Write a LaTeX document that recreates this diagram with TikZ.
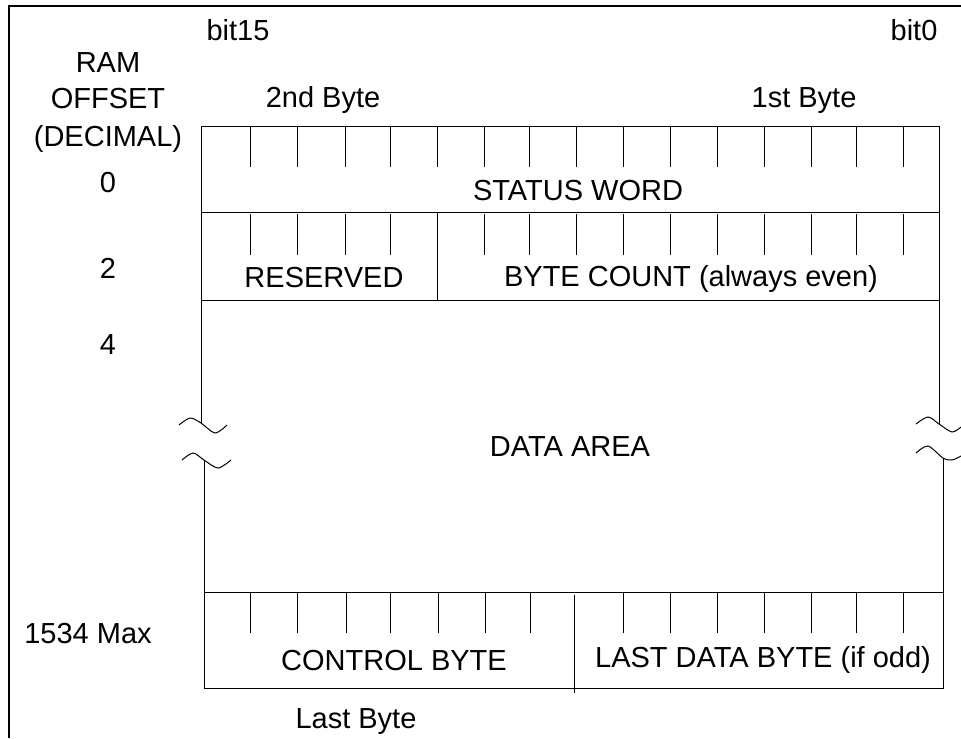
\documentclass[tikz,border=0pt]{standalone}
\usepackage{fontspec}
\setmainfont{Liberation Sans}
\usetikzlibrary{positioning}
\def\TickTop{250,297,345,390,437,484,529,576,623,670,717,764,811,856,903}

\begin{document}
\begin{tikzpicture}[% one unit is one pixel of the page, y runs downwards
			x=0.5pt,y=-0.5pt,
			every node/.style={
				font=\fontsize{14.5}{17}\selectfont,
				inner sep=0pt,
				anchor=base		% texts sit on their base line
			},
			rule/.style={draw,line width=0.5pt},
			frame/.style={draw,line width=1pt}
		]
		\useasboundingbox (0,0) rectangle (961,738);
		\draw[frame] (9,738) -- (9,6) -- (961,6);
		% labels round the table
		\node (B15) at (238,41) {bit15};
		\node (B0) at (914,41) {bit0};
		\node (RAM) at (108,73) {RAM};
		\node (OFS) at (108,108) {OFFSET};
		\node (DEC) at (108,146) {(DECIMAL)};
		\node (O0) at (108,192) {0};
		\node (O2) at (108,278) {2};
		\node (O4) at (108,354) {4};
		\node (O1534) at (88,643) {1534 Max};
		\node (BY2) at (323,107) {2nd Byte};
		\node (BY1) at (804,107) {1st Byte};
		\node (LB) at (356,728) {Last Byte};
		% status word and byte count
		\draw[rule] (201,126) rectangle (939,300);
		\draw[rule] (201,212) -- (939,212);
		\draw[rule] (437,212) -- (437,300);
		\foreach \x in \TickTop {
			\draw[rule] (\x,126) -- (\x,167);
		}
		\foreach \x in {250,297,345,390,484,529,576,623,670,717,764,811,856,903} {
			\draw[rule] (\x,214) -- (\x,255);
		}
		\node (SW) at (578,200) {STATUS WORD};
		\node (RES) at (324,287) {RESERVED};
		\node (BC) at (691,286) {BYTE COUNT (always even)};
		% data area with its breaks
		\draw[rule] (201,300) -- (201,423);
		\draw[rule] (204,460) -- (204,592);
		\draw[rule] (939,300) -- (939,424);
		\draw[rule] (943,458) -- (943,592);
		\draw[rule] plot[smooth] coordinates {(179,425) (190,418) (201,423) (215,433) (227,425)};
		\draw[rule] plot[smooth] coordinates {(182,460) (193,453) (204,460) (218,468) (231,460)};
		\draw[rule] plot[smooth] coordinates {(916,424) (928,417) (939,424) (952,432) (961,427)};
		\draw[rule] plot[smooth] coordinates {(916,453) (928,446) (943,458) (952,460) (961,456)};
		\node (DA) at (570,456) {DATA AREA};
		% last word
		\draw[rule] (204,592) rectangle (943,688);
		\draw[rule] (574,595) -- (574,693);
		\foreach \x in {250,297,346,390,438,485,530,623,670,717,764,811,856,903} {
			\draw[rule] (\x,592) -- (\x,633);
		}
		\node (CB) at (394,670) {CONTROL BYTE};
		\node (LDB) at (763,667) {LAST DATA BYTE (if odd)};
	\end{tikzpicture}
\end{document}
